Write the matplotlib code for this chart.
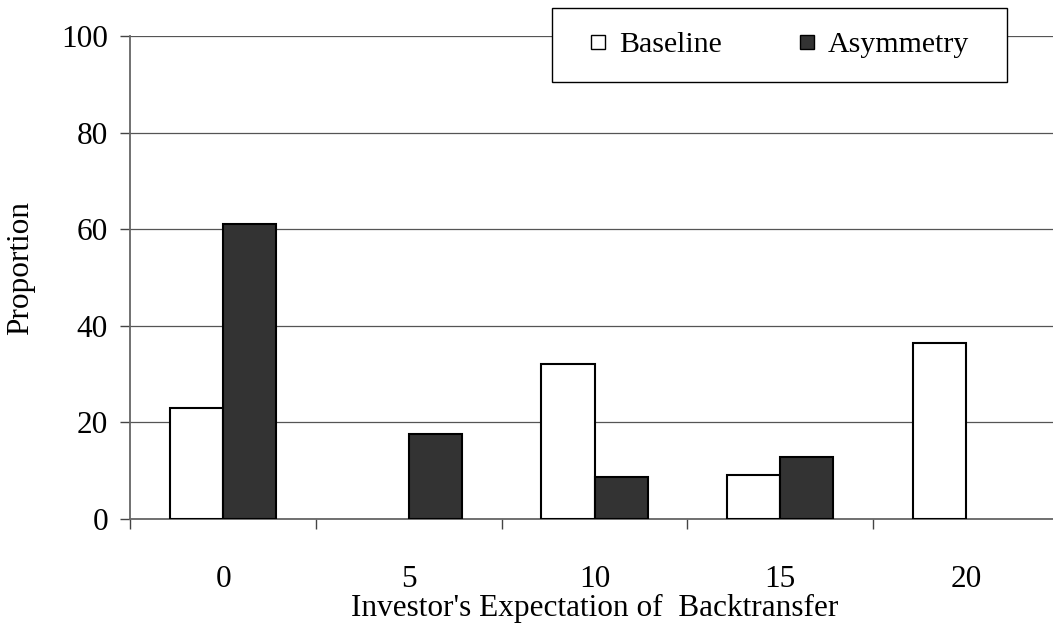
import matplotlib
matplotlib.use('Agg')
import matplotlib.pyplot as plt
import numpy as np
from matplotlib.lines import Line2D
from matplotlib.patches import Rectangle

# --- Data ---
categories = ['0', '5', '10', '15', '20']
baseline = [23.0, 0.0, 32.0, 9.1, 36.5]
asymmetry = [61.0, 17.5, 8.8, 12.8, 0.0]
y_ticks = [0, 20, 40, 60, 80, 100]

plt.rcParams['font.family'] = ['Liberation Serif', 'DejaVu Serif']
FS = 22.5

fig = plt.figure(figsize=(10.53, 6.27), dpi=100)
# right edge runs slightly past the canvas, as in the reference
ax = fig.add_axes([0.1239, 0.1722, 1.0053 - 0.1239, 0.9426 - 0.1722])

x = np.arange(len(categories))
w = 1 / 3.5  # Excel-style 150% gap width
# zero-height bars leave no outline on the axis
lw_base = [1.5 if v > 0 else 0 for v in baseline]
lw_asym = [1.5 if v > 0 else 0 for v in asymmetry]
ax.bar(x - w / 2, baseline, w, color='white', edgecolor='black', linewidth=lw_base, zorder=3)
ax.bar(x + w / 2, asymmetry, w, color='#333333', edgecolor='black', linewidth=lw_asym, zorder=3)

ax.set_xlim(-0.5, len(categories) - 0.5)
ax.set_ylim(0, 100)
ax.set_yticks(y_ticks)
ax.tick_params(axis='y', labelsize=FS, length=7.2, width=1, color='#444444', pad=9)

# boundary tick marks, labels centred on the groups
ax.set_xticks(np.arange(len(categories) + 1) - 0.5)
ax.set_xticklabels([])
ax.tick_params(axis='x', which='major', length=7.2, width=1, color='#444444', direction='out')
ax.set_xticks(x, minor=True)
ax.set_xticklabels(categories, minor=True)
ax.tick_params(axis='x', which='minor', length=0, labelsize=FS, pad=33)

ax.grid(axis='y', color='#555555', linewidth=0.9, zorder=0)
ax.set_axisbelow(True)
for s in ['top', 'right']:
    ax.spines[s].set_visible(False)
for s in ['left', 'bottom']:
    ax.spines[s].set_color('#666666')
    ax.spines[s].set_linewidth(1.3)

ax.set_xlabel("Investor's Expectation of  Backtransfer", fontsize=FS, labelpad=0)
ax.set_ylabel('Proportion', fontsize=FS)
ax.yaxis.set_label_coords(-0.103, 0.52)

# legend box sitting over the top gridline
fig.patches.append(Rectangle((551.7 / 1053, 1 - 81.7 / 627), 455 / 1053, 73.4 / 627,
                             transform=fig.transFigure, facecolor='white',
                             edgecolor='black', linewidth=1, zorder=5))
handles = [
    Line2D([], [], linestyle='none', marker='s', markersize=10.6,
           markerfacecolor='white', markeredgecolor='black', markeredgewidth=1),
    Line2D([], [], linestyle='none', marker='s', markersize=10.6,
           markerfacecolor='#333333', markeredgecolor='black', markeredgewidth=1),
]
leg = fig.legend(handles, ['Baseline', 'Asymmetry'], ncol=2, frameon=False,
                 loc='center', bbox_to_anchor=(0.741, 0.9282), fontsize=21.5,
                 handlelength=0.5, handletextpad=0.45, columnspacing=2.6)
leg.set_zorder(6)

fig.savefig('out.png', dpi=100)
